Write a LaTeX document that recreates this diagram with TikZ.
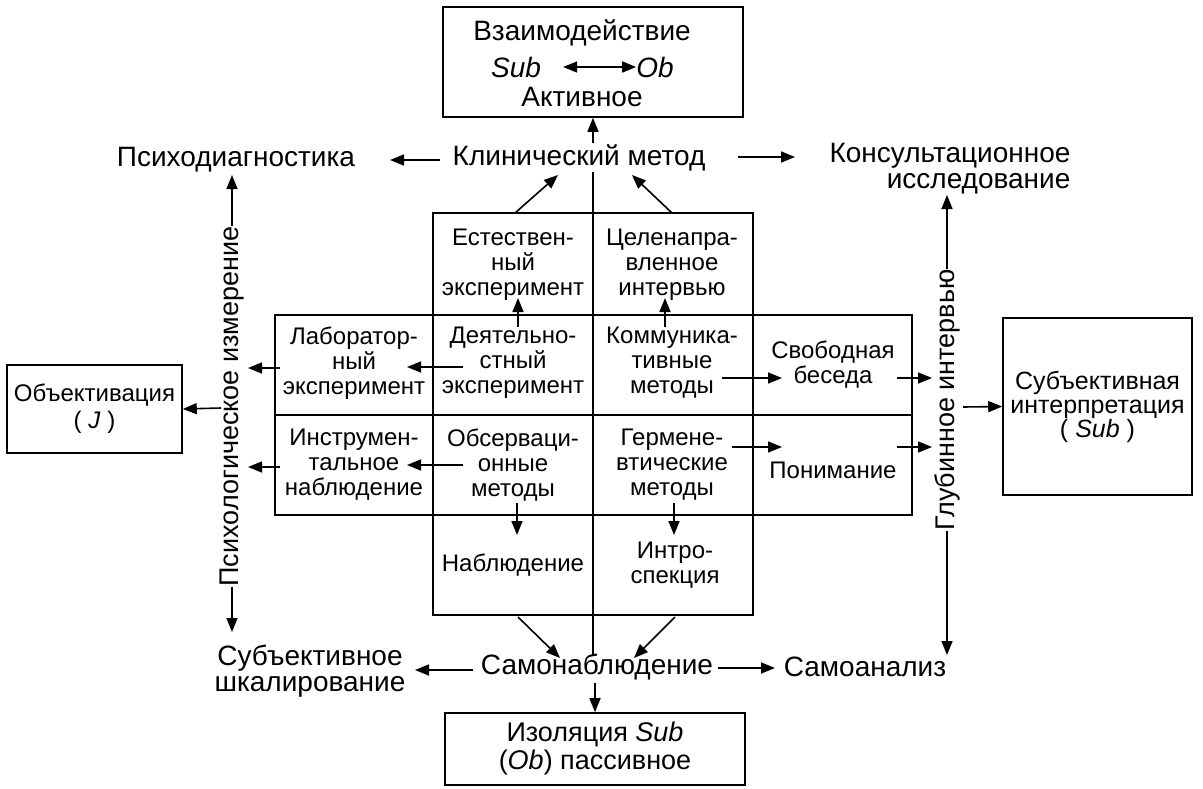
\documentclass[tikz,border=0pt]{standalone}
\usepackage{fontspec}
\setmainfont{Liberation Sans}
\usetikzlibrary{arrows.meta}
\tikzset{
  box/.style={draw, line width=1.6pt, inner sep=0pt},
  lbl/.style={font=\fontsize{24}{25}\selectfont, align=center, inner sep=0pt},
  big/.style={font=\fontsize{28}{26}\selectfont, align=center, inner sep=0pt},
  arr/.style={line width=1.6pt, -{Triangle[length=14pt,width=11pt]}},
  ln/.style={line width=1.6pt},
}
\begin{document}
\begin{tikzpicture}[x=1pt,y=-1pt]
\useasboundingbox (0,0) rectangle (1203,788);
% top box
\node[box, minimum width=300pt, minimum height=110pt] (top) at (593,62) {};
\node[big] (t1) at (582,33) {Взаимодействие};
\node[big] (sub1) at (516,67) {\textit{Sub}};
\node[big] (ob1) at (655,67) {\textit{Ob}};
\node[big] (t3) at (582,97) {Активное};
\draw[line width=1.6pt, {Triangle[length=14pt,width=11pt]}-{Triangle[length=14pt,width=11pt]}] ([xshift=22pt]sub1.east) -- (ob1.west);
% clinical row
\node[big] (klin) at (579,158) {Клинический метод};
\node[big] (psd) at (236,160) {Психодиагностика};
\node[big, align=right] (kons) at (950,169) {Консультационное\\исследование};
\coordinate (k1) at (440,160); \coordinate (k2) at (390,160);
\coordinate (k3) at (738,157); \coordinate (k4) at (795,157);
\draw[arr] (k1) -- (k2);
\draw[arr] (k3) -- (k4);
\draw[arr] (top.south |- 0,143) -- (top.south);
% grid
\node[box, minimum width=320pt, minimum height=402pt] (col) at (593,414) {};
\node[box, minimum width=637pt, minimum height=200pt] (wide) at (593.5,415) {};
\draw[ln] (wide.west) -- (wide.east);
\coordinate (ct) at (593,172); \coordinate (cb) at (593,656);
\draw[ln] (ct) -- (cb);
\coordinate (c1) at (515,213); \coordinate (c2) at (558,175);
\coordinate (c3) at (672,213); \coordinate (c4) at (632,175);
\draw[arr] (c1) -- (c2);
\draw[arr] (c3) -- (c4);
% cells
\node[lbl] (est) at (513,265) {Естествен-\\ный\\эксперимент};
\node[lbl] (cel) at (672,265) {Целенапра-\\вленное\\интервью};
\node[lbl] (lab) at (354,363) {Лаборатор-\\ный\\эксперимент};
\node[lbl] (dey) at (513,363) {Деятельно-\\стный\\эксперимент};
\node[lbl] (kom) at (672,363) {Коммуника-\\тивные\\методы};
\node[lbl] (svo) at (833,365) {Свободная\\беседа};
\node[lbl] (ins) at (354,465) {Инструмен-\\тальное\\наблюдение};
\node[lbl] (obs) at (513,465) {Обсерваци-\\онные\\методы};
\node[lbl] (ger) at (672,465) {Гермене-\\втические\\методы};
\node[lbl] (pon) at (833,470) {Понимание};
\node[lbl] (nab) at (513,565) {Наблюдение};
\node[lbl] (int) at (675,565) {Интро-\\спекция};
% inner arrows
\draw[arr] (518,327) -- (518,298);
\draw[arr] (665,327) -- (665,298);
\draw[arr] (463,367) -- (407,367);
\draw[arr] (463,465) -- (407,465);
\draw[arr] (517,503) -- (517,535);
\draw[arr] (674,503) -- (674,535);
\draw[arr] (722,378) -- (782,378);
\draw[arr] (732,447) -- (782,447);
\draw[arr] (897,378) -- (932,378);
\draw[arr] (897,447) -- (932,447);
\draw[arr] (280,368) -- (248,368);
\draw[arr] (280,467) -- (248,467);
% left side
\node[big, rotate=90, font=\fontsize{27}{26}\selectfont] (pm) at (232,406.5) {Психологическое измерение};
\coordinate (pmt) at (232,175); \coordinate (pmb) at (232,632);
\draw[arr] (pm.east) -- (pmt);
\draw[arr] (pm.west) -- (pmb);
\node[box, minimum width=175pt, minimum height=88pt, font=\fontsize{24}{27}\selectfont, align=center] (obj) at (94.5,409) {Объективация\\( \textit{J} )};
\draw[arr] (221,408) -- (obj.east);
% right side
\node[big, rotate=90, font=\fontsize{27}{26}\selectfont] (gi) at (947,400) {Глубинное интервью};
\coordinate (git) at (947,195); \coordinate (gib) at (947,655);
\draw[arr] (gi.east) -- (git);
\draw[arr] (gi.west) -- (gib);
\node[box, minimum width=189pt, minimum height=177pt, font=\fontsize{25}{24}\selectfont, align=center] (subi) at (1097.5,406.5) {Субъективная\\интерпретация\\( \textit{Sub} )};
\draw[arr] (963,407) -- (subi.west);
% bottom
\node[big] (samo) at (597,667) {Самонаблюдение};
\node[big] (shk) at (310,671) {Субъективное\\шкалирование};
\node[big] (saman) at (865,667) {Самоанализ};
\draw[arr] (518,617) -- (560,658);
\draw[arr] (675,617) -- (634,658);
\draw[arr] (473,670) -- (415,670);
\draw[arr] (718,668) -- (775,668);
\node[box, minimum width=300pt, minimum height=72pt, font=\fontsize{27}{28}\selectfont, align=center] (bot) at (595,749) {Изоляция \textit{Sub}\\(\textit{Ob}) пассивное};
\draw[arr] (bot.north |- 0,683) -- (bot.north);
\end{tikzpicture}
\end{document}
